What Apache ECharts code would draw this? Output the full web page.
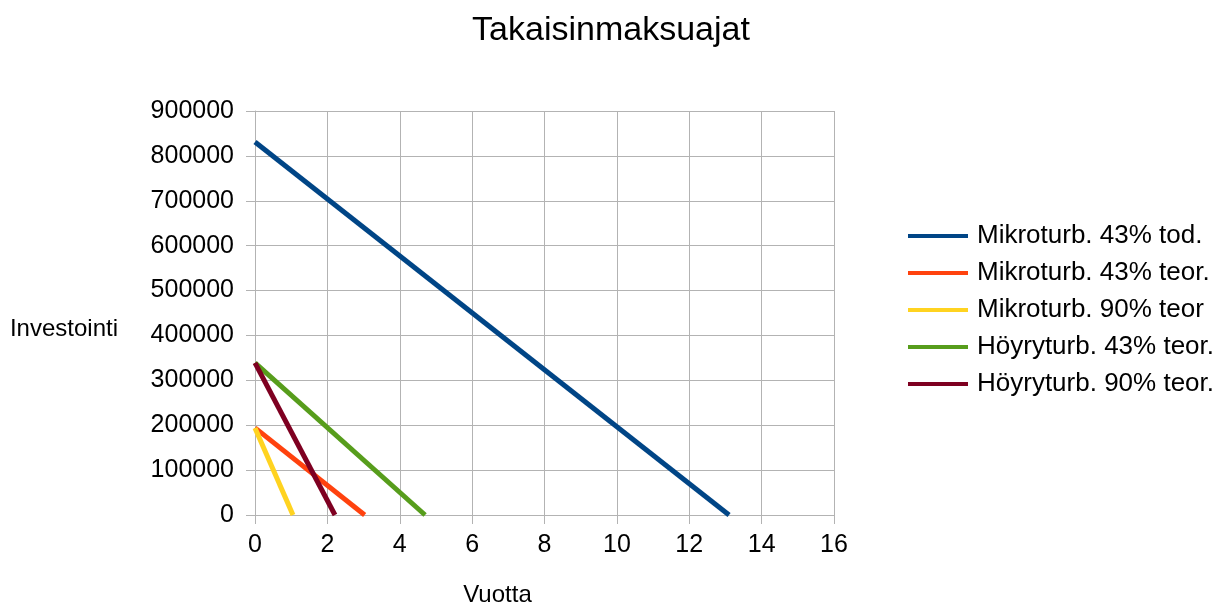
<!DOCTYPE html>
<html>
<head>
<meta charset="utf-8">
<script src="https://cdn.jsdelivr.net/npm/echarts@6/dist/echarts.min.js"></script>
<style>
  html, body { margin: 0; padding: 0; background: #fff; }
  #main { width: 1227px; height: 606px; }
</style>
</head>
<body>
<div id="main"></div>
<script>
// payback lines: each series goes from [0, investment] to [years, 0]
const seriesNames = [
  'Mikroturb. 43% tod.',
  'Mikroturb. 43% teor.',
  'Mikroturb. 90% teor',
  'Höyryturb. 43% teor.',
  'Höyryturb. 90% teor.'
]
const investments = [831000, 194000, 194000, 339000, 339000]
const paybackYears = [13.1, 3.03, 1.05, 4.7, 2.21]
const colors = ['#004586', '#ff420e', '#ffd320', '#579d1c', '#7e0021']

const font = 'Liberation Sans, Arial, sans-serif'

const series = seriesNames.map((name, i) => {
  return {
    name: name,
    type: 'line',
    showSymbol: false,
    symbol: 'none',
    lineStyle: { width: 5, color: colors[i] },
    itemStyle: { color: colors[i] },
    data: [[0, investments[i]], [paybackYears[i], 0]]
  }
})

const myChart = echarts.init(document.getElementById('main'))
myChart.setOption({
  animation: false,
  textStyle: { fontFamily: font },
  title: {
    text: 'Takaisinmaksuajat',
    left: 606,
    textAlign: 'center',
    top: 9,
    textStyle: { fontSize: 34, fontWeight: 'normal', color: '#000', fontFamily: font }
  },
  grid: {
    left: 255,
    right: 393,
    top: 111,
    bottom: 91,
    containLabel: false,
    outerBoundsMode: 'none'
  },
  legend: {
    orient: 'vertical',
    left: 908,
    top: 223,
    padding: 0,
    itemWidth: 60,
    itemHeight: 4,
    itemGap: 11,
    icon: 'rect',
    textStyle: { fontSize: 26, color: '#000', fontFamily: font, padding: [0, 0, 0, 4] },
    data: seriesNames
  },
  xAxis: {
    type: 'value',
    min: 0,
    max: 16,
    interval: 2,
    name: 'Vuotta',
    nameLocation: 'middle',
    nameGap: 68,
    nameTextStyle: { fontSize: 24, color: '#000', fontFamily: font, padding: [0, 94, 0, 0] },
    axisLine: { show: true, lineStyle: { color: '#b3b3b3', width: 1 } },
    axisTick: { show: true, length: 9, lineStyle: { color: '#b3b3b3' } },
    axisLabel: { fontSize: 25, color: '#000', margin: 18, fontFamily: font },
    splitLine: { show: true, lineStyle: { color: '#b3b3b3', width: 1 } }
  },
  yAxis: {
    type: 'value',
    min: 0,
    max: 900000,
    interval: 100000,
    name: 'Investointi',
    nameLocation: 'middle',
    nameRotate: 0,
    nameGap: 137,
    nameTextStyle: { fontSize: 24, color: '#000', fontFamily: font, verticalAlign: 'top', padding: [4, 0, 0, 0] },
    axisLine: { show: true, lineStyle: { color: '#b3b3b3', width: 1 } },
    axisTick: { show: true, length: 9, lineStyle: { color: '#b3b3b3' } },
    axisLabel: {
      fontSize: 25,
      color: '#000',
      margin: 21,
      fontFamily: font,
      formatter: (v) => String(v)
    },
    splitLine: { show: true, lineStyle: { color: '#b3b3b3', width: 1 } }
  },
  series: series
})
</script>
</body>
</html>
